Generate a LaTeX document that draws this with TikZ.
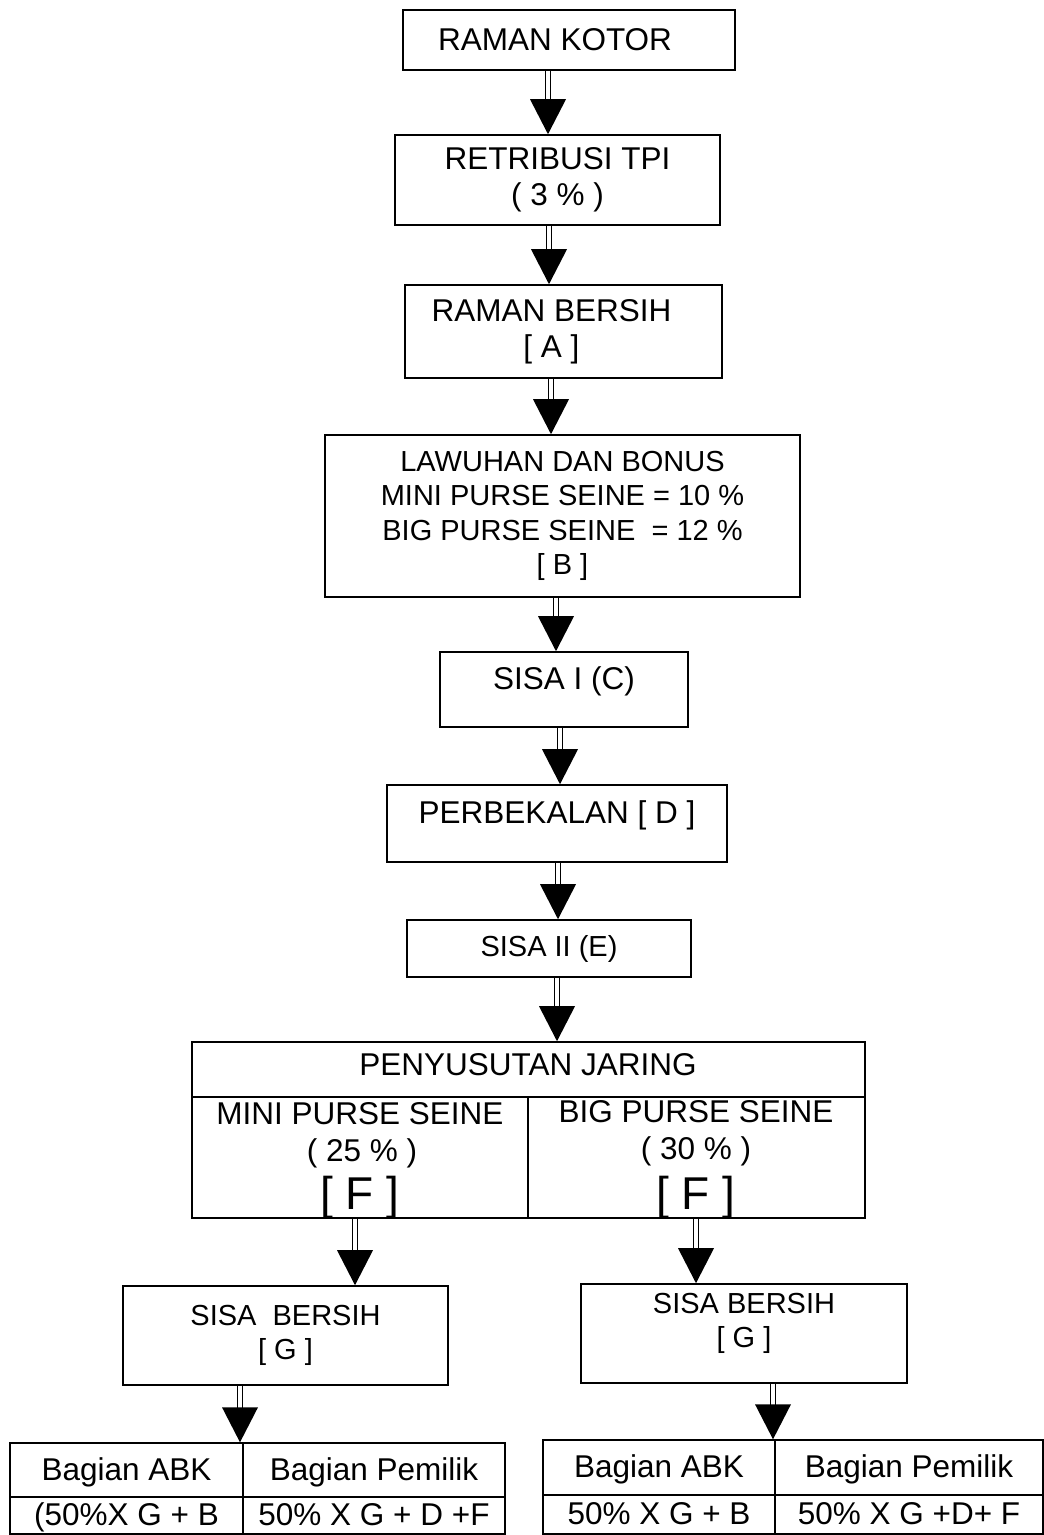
\documentclass[tikz,border=0pt]{standalone}
\usepackage{fontspec}
\setmainfont{Liberation Sans}
\usetikzlibrary{calc}
\newcommand\fsz{\fontsize{31.5}{36}\selectfont}
\newcommand\fsm{\fontsize{29}{34.5}\selectfont}
\newcommand\fbig{\fontsize{46}{46}\selectfont}
\newcommand\flowarr[3]{%
  \coordinate (fx) at (#1,0);
  \coordinate (fp) at (fx |- #2.south);
  \coordinate (fq) at (fx |- #3.north);
  \draw[shaft] (fp) -- ($(fq)+(0,-32)$);
  \fill (fq) -- ++(-18,-35) -- ++(36,0) -- cycle;
}
\tikzset{
  box/.style={draw, line width=1.6pt, inner sep=0pt, align=center, font=\fsz},
  cell/.style={draw, line width=1.4pt, inner sep=0pt, align=center, font=\fsz, text height=20pt, text depth=0pt},
  txt/.style={inner sep=0pt, align=center, font=\fsz},
  shaft/.style={double, double distance=4pt, line width=1.1pt}
}
\begin{document}
\begin{tikzpicture}[x=1pt,y=-1pt]
\useasboundingbox (0,0) rectangle (1044,1535);

\node[box, minimum width=332pt, minimum height=60pt] (kotor) at (569,40) {RAMAN KOTOR\hspace*{28pt}};
\node[box, minimum width=325pt, minimum height=90pt] (retri) at (557.5,180) {RETRIBUSI TPI\\( 3 \% )};
\node[box, minimum width=317pt, minimum height=93pt] (bersih) at (563.5,331.5) {RAMAN BERSIH\hspace*{24pt}\\{[ A ]}\hspace*{24pt}};
\node[box, font=\fsm, minimum width=475pt, minimum height=162pt] (lawuhan) at (562.5,516) {LAWUHAN DAN BONUS\\MINI PURSE SEINE = 10 \%\\BIG PURSE SEINE\ \ = 12 \%\\{[ B ]}};
\node[box, minimum width=248pt, minimum height=75pt] (sisa1) at (564,689.5) {SISA I (C)\\[-14pt]\mbox{}};
\node[box, minimum width=340pt, minimum height=77pt] (perbek) at (557,823.5) {PERBEKALAN [ D ]\\[-14pt]\mbox{}};
\node[box, font=\fsm, minimum width=284pt, minimum height=57pt] (sisa2) at (549,948.5) {SISA II (E)};

\node[box, minimum width=673pt, minimum height=176pt] (peny) at (528.5,1130) {};
\coordinate (hy) at (0,1097);
\coordinate (vx) at (528,1097);
\draw[line width=1.6pt] (peny.west |- hy) -- (peny.east |- hy);
\draw[line width=1.6pt] (vx) -- (vx |- peny.south);
\node[txt] (pt) at (528,1065) {PENYUSUTAN JARING};
\node[txt] (pm) at (360,1114) {MINI PURSE SEINE};
\node[txt] (pm2) at (362,1153) {( 25 \% )};
\node[txt, font=\fbig] (pm3) at (360,1198) {[ F ]};
\node[txt] (pb) at (696,1112) {BIG PURSE SEINE};
\node[txt] (pb2) at (696,1151) {( 30 \% )};
\node[txt, font=\fbig] (pb3) at (696,1198) {[ F ]};

\node[box, font=\fsm, minimum width=325pt, minimum height=99pt] (gl) at (285.5,1335.5) {SISA\ \ BERSIH\\{[ G ]}};
\node[box, font=\fsm, minimum width=326pt, minimum height=99pt] (gr) at (744,1333.5) {SISA BERSIH\\{[ G ]}\\[-8pt]\mbox{}};

\node[cell, minimum width=233pt, minimum height=54pt] (l11) at (126.5,1470) {Bagian ABK};
\node[cell, minimum width=262pt, minimum height=54pt] (l12) at (374,1470) {Bagian Pemilik};
\node[cell, minimum width=233pt, minimum height=37pt] (l21) at (126.5,1515.5) {(50\%X G + B};
\node[cell, minimum width=262pt, minimum height=37pt] (l22) at (374,1515.5) {50\% X G + D +F};

\node[cell, minimum width=232pt, minimum height=55pt] (r11) at (659,1467.5) {Bagian ABK};
\node[cell, minimum width=268pt, minimum height=55pt] (r12) at (909,1467.5) {Bagian Pemilik};
\node[cell, minimum width=232pt, minimum height=39pt] (r21) at (659,1514.5) {50\% X G + B};
\node[cell, minimum width=268pt, minimum height=39pt] (r22) at (909,1514.5) {50\% X G +D+ F};

\flowarr{548}{kotor}{retri}
\flowarr{549}{retri}{bersih}
\flowarr{551}{bersih}{lawuhan}
\flowarr{556}{lawuhan}{sisa1}
\flowarr{560}{sisa1}{perbek}
\flowarr{558}{perbek}{sisa2}
\flowarr{557}{sisa2}{peny}
\flowarr{355}{peny}{gl}
\flowarr{696}{peny}{gr}
\flowarr{240}{gl}{l11}
\flowarr{773}{gr}{r11}
\end{tikzpicture}
\end{document}
